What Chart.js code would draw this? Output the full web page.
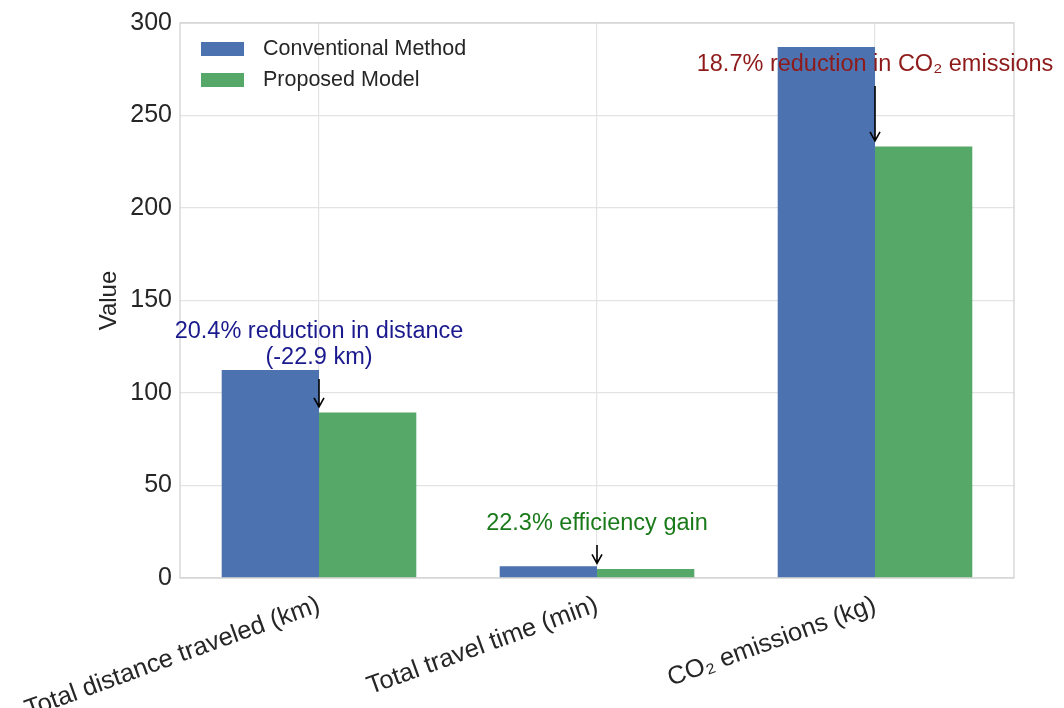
<!DOCTYPE html>
<html>
<head>
<meta charset="utf-8">
<script src="https://cdn.jsdelivr.net/npm/chart.js@4.4.1/dist/chart.umd.min.js"></script>
<style>
  html, body { margin: 0; padding: 0; background: #fff; }
  #wrap { width: 1064px; height: 708px; position: relative; }
</style>
</head>
<body>
<div id="wrap"><canvas id="barchart"></canvas></div>
<script>
// chart data
const categories = ['Total distance traveled (km)', 'Total travel time (min)', 'CO\u2082 emissions (kg)'];
const conventional = [112.4, 6.3, 287.0];
const proposed = [89.5, 4.9, 233.3];
const seriesNames = ['Conventional Method', 'Proposed Model'];
const yTicks = [0, 50, 100, 150, 200, 250, 300];
const annotationLines = [
    ['20.4% reduction in distance', '(-22.9 km)'],
    ['22.3% efficiency gain'],
    ['18.7% reduction in CO\u2082 emissions']
];

const FONT = "'Liberation Sans', Arial, sans-serif";

// where the annotation text sits (value units) and its colour
const annoStyle = [
    { textAt: 126, color: '#1a1a8e' },
    { textAt: 29.2, color: '#1a7a1a' },
    { textAt: 277.3, color: '#8e1a1a' }
];

// frame + legend + annotations
const extras = {
    id: 'extras',
    afterDatasetsDraw(chart) {
        const c = chart.ctx;
        const a = chart.chartArea;
        const xs = chart.scales.x, ys = chart.scales.y;

        // light frame around the plot
        c.save();
        c.strokeStyle = '#cfcfcf';
        c.lineWidth = 1.2;
        c.strokeRect(a.left, a.top, a.right - a.left, a.bottom - a.top);
        c.restore();

        // annotations with arrows
        c.save();
        c.font = '23.5px ' + FONT;
        c.textAlign = 'center';
        c.textBaseline = 'middle';
        annotationLines.forEach(function (lines, i) {
            const x = xs.getPixelForValue(i);
            const yc = ys.getPixelForValue(annoStyle[i].textAt);
            const lh = 26;
            const y0 = yc - (lines.length - 1) * lh / 2;
            c.fillStyle = annoStyle[i].color;
            lines.forEach(function (t, k) {
                c.fillText(t, x, y0 + k * lh);
            });
            const yStart = y0 + (lines.length - 1) * lh + 21;
            const yTip = ys.getPixelForValue(proposed[i] + 3);
            c.strokeStyle = '#000';
            c.lineWidth = 1.6;
            c.beginPath();
            c.moveTo(x, yStart);
            c.lineTo(x, yTip);
            c.moveTo(x - 5, yTip - 9);
            c.lineTo(x, yTip);
            c.lineTo(x + 5, yTip - 9);
            c.stroke();
        });
        c.restore();

        // legend in upper left
        c.save();
        c.font = '21.5px ' + FONT;
        c.textAlign = 'left';
        c.textBaseline = 'middle';
        chart.data.datasets.forEach(function (ds, i) {
            const y = 49 + i * 31;
            c.fillStyle = ds.backgroundColor;
            c.fillRect(a.left + 21, y - 7, 43, 14);
            c.fillStyle = '#262626';
            c.fillText(ds.label, a.left + 83, y);
        });
        c.restore();
    }
};

const ctx = document.getElementById('barchart').getContext('2d');
const barchart = new Chart(ctx, {
    type: 'bar',
    data: {
        labels: categories,
        datasets: [{
            label: seriesNames[0],
            data: conventional,
            backgroundColor: '#4C72B0',
            categoryPercentage: 0.7,
            barPercentage: 1.0
        }, {
            label: seriesNames[1],
            data: proposed,
            backgroundColor: '#55A868',
            categoryPercentage: 0.7,
            barPercentage: 1.0
        }]
    },
    options: {
        responsive: true,
        maintainAspectRatio: false,
        animation: false,
        layout: {
            padding: { left: 95, right: 50, top: 23, bottom: 0 }
        },
        plugins: {
            legend: { display: false },
            tooltip: { enabled: false }
        },
        scales: {
            x: {
                grid: { color: '#e3e3e3', lineWidth: 1.2, offset: false, drawTicks: false },
                border: { display: false },
                ticks: {
                    autoSkip: false,
                    maxRotation: 20,
                    minRotation: 20,
                    padding: 12,
                    color: '#262626',
                    font: { family: FONT, size: 25.5 }
                },
                afterFit: function (s) {
                    s.height = 130;
                    s.paddingLeft = 0;
                    s.paddingRight = 0;
                }
            },
            y: {
                min: 0,
                max: 300,
                afterBuildTicks: function (s) { s.ticks = yTicks.map(v => ({ value: v })); },
                grid: { color: '#e3e3e3', lineWidth: 1.2, drawTicks: false },
                border: { display: false },
                ticks: {
                    padding: 8,
                    color: '#262626',
                    font: { family: FONT, size: 25 }
                },
                title: {
                    display: true,
                    text: 'Value',
                    color: '#262626',
                    padding: 0,
                    font: { family: FONT, size: 24 }
                },
                afterFit: function (s) { s.width = 85; }
            }
        }
    },
    plugins: [extras]
});
</script>
</body>
</html>
